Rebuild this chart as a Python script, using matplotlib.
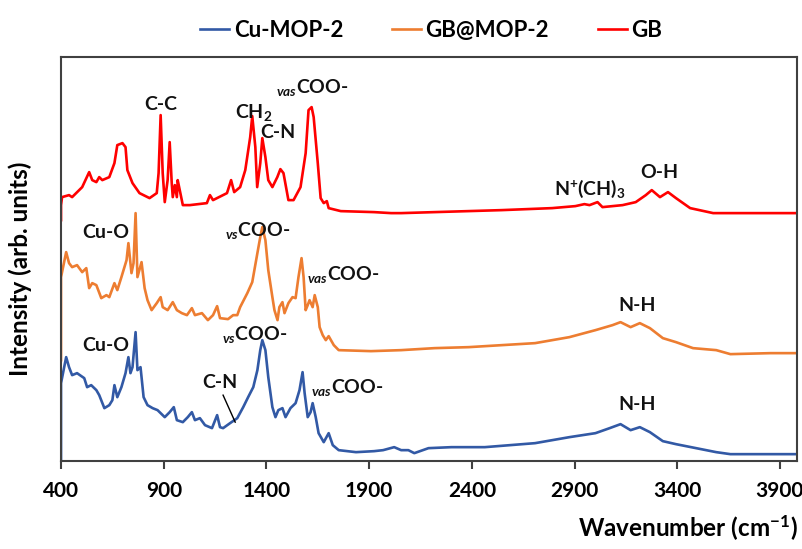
import matplotlib
matplotlib.use("Agg")
import matplotlib.pyplot as plt

plt.rcParams['font.family'] = ['Lato', 'DejaVu Sans']
plt.rcParams['font.weight'] = 'bold'
plt.rcParams['mathtext.fontset'] = 'custom'
plt.rcParams['mathtext.rm'] = 'Lato:bold'
plt.rcParams['mathtext.it'] = 'Lato:italic:bold'
plt.rcParams['mathtext.bf'] = 'Lato:bold'

# spectra: wavenumber (cm-1) and intensity (arb. units, offset stack)
cu_wn = [400, 400, 425, 439, 454, 478, 513, 527, 547, 572, 586, 611, 635, 650, 660, 674, 694, 714, 728,
         738, 748, 763, 772, 787, 802, 821, 846, 870, 905, 929, 949, 964, 993, 1017, 1037, 1052, 1076,
         1101, 1135, 1160, 1174, 1189, 1223, 1258, 1287, 1311, 1336, 1356, 1370, 1380, 1395, 1409, 1429,
         1444, 1458, 1478, 1493, 1517, 1542, 1561, 1576, 1586, 1601, 1615, 1625, 1640, 1654, 1679, 1703,
         1723, 1752, 1836, 1924, 1968, 2022, 2056, 2091, 2120, 2189, 2301, 2463, 2708, 2875, 3002, 3071,
         3124, 3173, 3218, 3267, 3330, 3394, 3492, 3590, 3659, 3855, 4002]
cu_int = [0, 78, 104, 94, 86, 88, 83, 74, 76, 71, 66, 53, 56, 61, 76, 64, 74, 88, 104,
          88, 94, 129, 91, 94, 64, 56, 53, 51, 44, 49, 54, 41, 39, 44, 49, 41, 43,
          36, 33, 46, 34, 33, 38, 43, 54, 64, 74, 91, 111, 121, 111, 84, 54,
          44, 51, 53, 44, 53, 58, 71, 89, 68, 44, 49, 58, 44, 28, 19, 28,
          16, 11, 9, 10, 11, 14, 11, 11, 8, 13, 14, 14, 18, 24, 28, 33,
          37, 31, 34, 29, 20, 17, 13, 9, 7, 7, 7]

gbmop_wn = [400, 400, 425, 439, 454, 478, 503, 523, 537, 552, 572, 596, 621, 635, 660, 674, 694, 719,
            728, 743, 753, 763, 772, 792, 807, 821, 841, 866, 885, 895, 919, 944, 964, 988, 1013, 1037,
            1052, 1086, 1115, 1140, 1160, 1174, 1213, 1238, 1258, 1272, 1307, 1331, 1356, 1370, 1380,
            1395, 1409, 1429, 1439, 1454, 1463, 1478, 1488, 1507, 1527, 1542, 1556, 1571, 1581, 1591,
            1601, 1610, 1625, 1635, 1650, 1659, 1674, 1689, 1703, 1728, 1752, 1909, 2056, 2218, 2385,
            2546, 2708, 2875, 3002, 3085, 3124, 3173, 3218, 3267, 3330, 3394, 3477, 3590, 3659, 3855, 4002]
gbmop_int = [101, 184, 209, 198, 194, 196, 189, 193, 173, 178, 176, 163, 166, 164, 178, 171, 184, 201,
             218, 188, 198, 248, 184, 199, 173, 161, 151, 158, 164, 154, 151, 159, 151, 148, 146, 153,
             146, 148, 141, 146, 155, 143, 142, 146, 146, 154, 168, 179, 208, 224, 234,
             221, 191, 164, 151, 141, 154, 159, 148, 158, 164, 163, 184, 203, 184, 151,
             156, 161, 154, 166, 154, 134, 126, 121, 125, 116, 111, 110, 111, 113, 114,
             116, 118, 124, 131, 136, 139, 134, 138, 133, 123, 119, 113, 111, 107, 108, 108]

gb_wn = [400, 400, 405, 439, 454, 503, 537, 552, 572, 586, 601, 635, 660, 674, 699, 714, 723, 748, 782,
         831, 866, 875, 885, 895, 905, 919, 929, 939, 944, 954, 964, 968, 978, 993, 1027, 1110, 1125,
         1140, 1208, 1228, 1243, 1272, 1297, 1321, 1331, 1346, 1355, 1370, 1380, 1395, 1409, 1429,
         1453, 1468, 1483, 1507, 1532, 1566, 1591, 1605, 1620, 1630, 1650, 1664, 1679, 1694, 1703,
         1762, 1924, 2007, 2056, 2218, 2546, 2791, 2904, 2948, 2973, 3012, 3036, 3134, 3198, 3247,
         3276, 3316, 3355, 3394, 3463, 3575, 3855, 4002]
gb_int = [241, 256, 264, 266, 264, 274, 289, 281, 279, 284, 281, 284, 298, 316, 318, 314, 291, 278, 268,
          263, 268, 288, 346, 288, 259, 281, 319, 278, 264, 276, 264, 281, 271, 256, 256, 258, 266,
          261, 268, 281, 269, 274, 291, 324, 345, 314, 274, 298, 323, 304, 281, 274,
          284, 292, 288, 261, 261, 274, 308, 351, 354, 344, 298, 263, 258, 260, 253,
          250, 249, 248, 248, 249, 251, 253, 255, 257, 256, 259, 254, 256, 259, 266,
          271, 264, 269, 263, 253, 248, 248, 248]

x_ticks = [400, 900, 1400, 1900, 2400, 2900, 3400, 3900]

# peak labels: text, wavenumber, intensity
labels = [
    ('C-C', 885, 357), (r'CH$_\mathrm{2}$', 1340, 349), ('C-N', 1458, 329),
    (r'${}_{\mathit{vas}}$COO-', 1625, 374), (r'N$^\mathrm{+}$(CH)$_\mathrm{3}$', 2973, 272),
    ('O-H', 3311, 289),
    ('Cu-O', 620, 229), (r'${}_{\mathit{vs}}$COO-', 1360, 231),
    (r'${}_{\mathit{vas}}$COO-', 1772, 187), ('N-H', 3203, 156),
    ('Cu-O', 620, 116), (r'${}_{\mathit{vs}}$COO-', 1341, 127),
    (r'${}_{\mathit{vas}}$COO-', 1792, 74), ('C-N', 1174, 79), ('N-H', 3203, 57),
]

fig = plt.figure(figsize=(8.03, 5.49), dpi=100)
ax = fig.add_axes([0.076, 0.160, 0.917, 0.736])

ax.plot(cu_wn, cu_int, color='#3259a5', lw=1.9, label='Cu-MOP-2')
ax.plot(gbmop_wn, gbmop_int, color='#ed7d31', lw=1.9, label='GB@MOP-2')
ax.plot(gb_wn, gb_int, color='#ff0000', lw=1.9, label='GB')

for txt, x, y in labels:
    ax.text(x, y, txt, ha='center', va='center', fontsize=14, fontweight='bold', color='#111111')
# leader line for the C-N band of Cu-MOP-2
ax.plot([1189, 1248], [66, 39], color='black', lw=1)

ax.set_xlim(400, 3985)
ax.set_ylim(0, 404)
ax.set_xticks(x_ticks)
ax.set_yticks([])
ax.tick_params(axis='x', direction='out', length=6, width=1.5, color='#404040', labelsize=15, pad=8)
for s in ax.spines.values():
    s.set_color('#404040')
    s.set_linewidth(1.5)

ax.set_xlabel(r'Wavenumber (cm$^\mathrm{-1}$)', fontsize=17.5, fontweight='bold', loc='right', labelpad=9)
ax.set_ylabel('Intensity (arb. units)', fontsize=17.5, fontweight='bold')
ax.yaxis.set_label_coords(-0.04, 0.475)

fig.legend(loc='center', bbox_to_anchor=(0.537, 0.945), ncol=3, frameon=False, fontsize=16,
           handlelength=1.3, handletextpad=0.2, columnspacing=2.2)

fig.savefig('out.png', dpi=100)
